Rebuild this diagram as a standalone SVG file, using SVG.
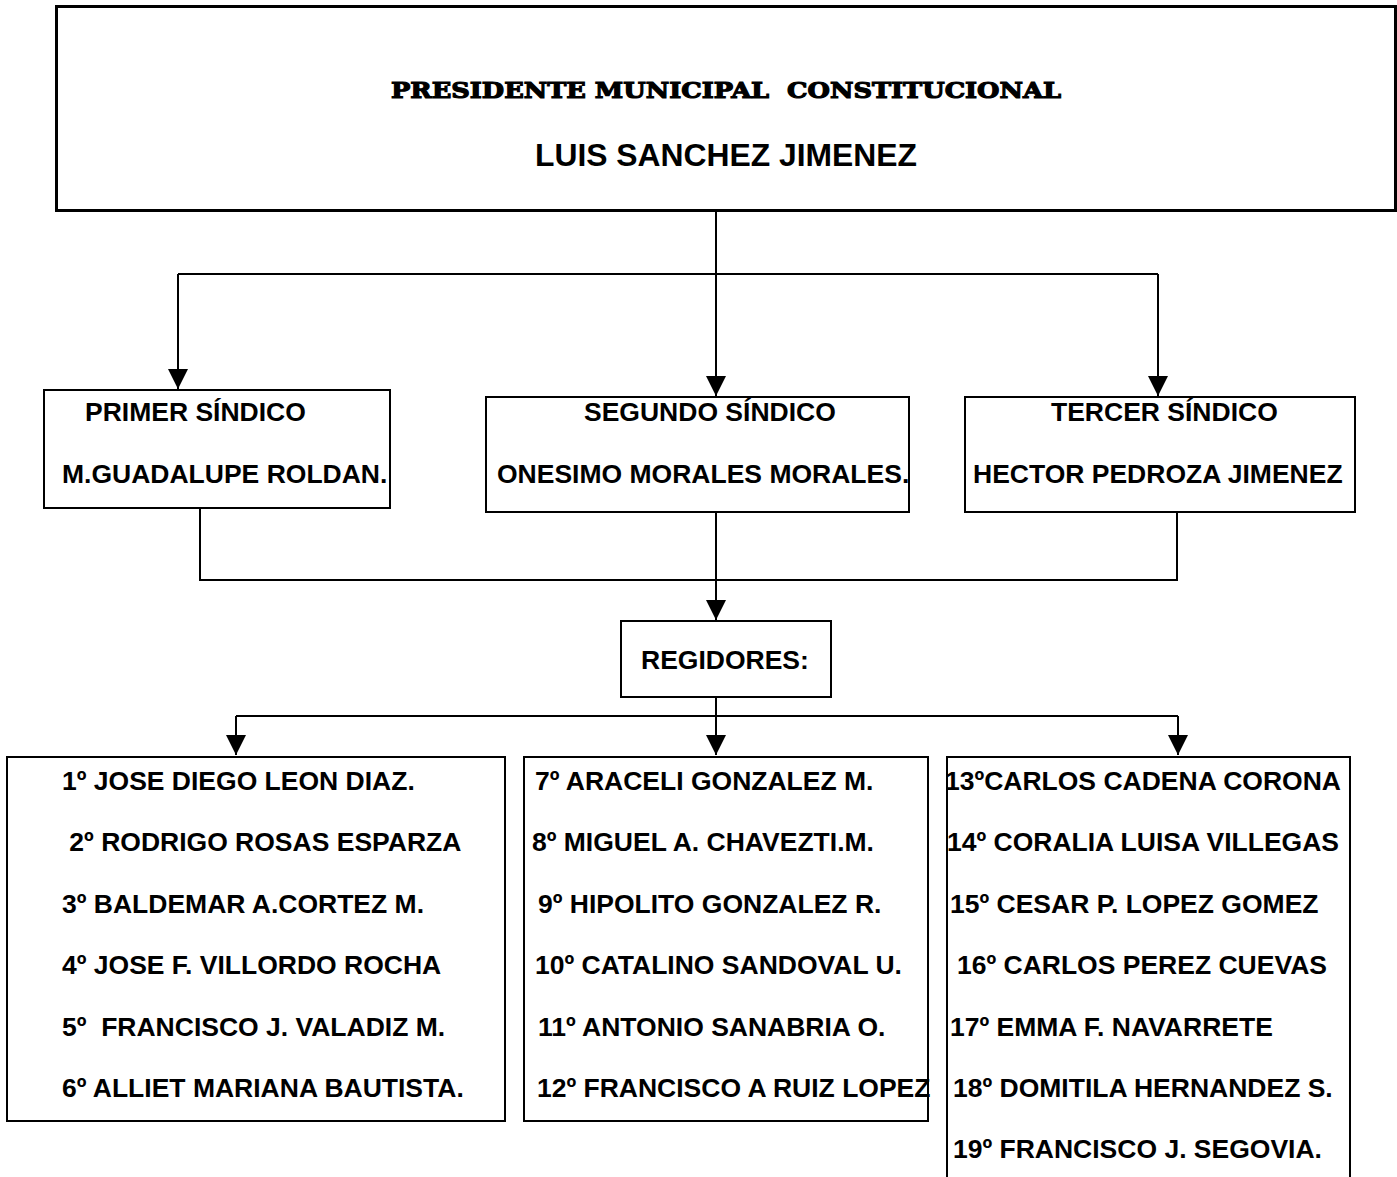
<svg xmlns="http://www.w3.org/2000/svg" width="1397" height="1177" viewBox="0 0 1397 1177">
<style>
.box{fill:#fff;stroke:#000;stroke-width:2}
.big{fill:#fff;stroke:#000;stroke-width:3}
.t{font-family:"Liberation Sans",Arial,sans-serif;font-weight:bold;font-size:26.5px;fill:#000;white-space:pre}
.title{font-family:"DejaVu Serif","Liberation Serif",serif;font-weight:900;font-size:23px;fill:#000;stroke:#000;stroke-width:1.2;white-space:pre}
.name{font-family:"Liberation Sans",Arial,sans-serif;font-weight:bold;font-size:32px;fill:#000}
.c{fill:none;stroke:#000;stroke-width:2}
</style>
<defs>
<marker id="ah" viewBox="0 0 20 20" refX="20" refY="10" markerWidth="20" markerHeight="20" markerUnits="userSpaceOnUse" orient="auto">
<path d="M0,0 L20,10 L0,20 z" fill="#000"/>
</marker>
</defs>
<rect width="1397" height="1177" fill="#fff"/>
<g id="connectors">
<path class="c" d="M716,210 V274 M178,274 H1158"/>
<path class="c" d="M178,274 V389" marker-end="url(#ah)"/>
<path class="c" d="M716,274 V396" marker-end="url(#ah)"/>
<path class="c" d="M1158,274 V396" marker-end="url(#ah)"/>
<path class="c" d="M200,508 V580 H1177 V512"/>
<path class="c" d="M716,512 V620" marker-end="url(#ah)"/>
<path class="c" d="M716,697 V716 M236,716 H1178"/>
<path class="c" d="M236,716 V755" marker-end="url(#ah)"/>
<path class="c" d="M716,716 V755" marker-end="url(#ah)"/>
<path class="c" d="M1178,716 V755" marker-end="url(#ah)"/>
</g>
<g id="presidente">
<rect class="big" x="56.5" y="6.5" width="1339" height="204"/>
<text class="title" x="391" y="98" textLength="670" lengthAdjust="spacingAndGlyphs">PRESIDENTE MUNICIPAL  CONSTITUCIONAL</text>
<text class="name" x="535" y="166" textLength="382" lengthAdjust="spacingAndGlyphs">LUIS SANCHEZ JIMENEZ</text>
</g>
<g id="primer-sindico">
<rect class="box" x="44" y="390" width="346" height="118"/>
<text class="t" x="85" y="421">PRIMER SÍNDICO</text>
<text class="t" x="62" y="483">M.GUADALUPE ROLDAN.</text>
</g>
<g id="segundo-sindico">
<rect class="box" x="486" y="397" width="423" height="115"/>
<text class="t" x="584" y="421">SEGUNDO SÍNDICO</text>
<text class="t" x="497" y="483">ONESIMO MORALES MORALES.</text>
</g>
<g id="tercer-sindico">
<rect class="box" x="965" y="397" width="390" height="115"/>
<text class="t" x="1051" y="421">TERCER SÍNDICO</text>
<text class="t" x="973" y="483">HECTOR PEDROZA JIMENEZ</text>
</g>
<g id="regidores">
<rect class="box" x="621" y="621" width="210" height="76"/>
<text class="t" x="641" y="669">REGIDORES:</text>
</g>
<g id="regidores-1-6">
<rect class="box" x="7" y="757" width="498" height="364"/>
<text class="t" x="62" y="790">1º JOSE DIEGO LEON DIAZ.</text>
<text class="t" x="62" y="851"> 2º RODRIGO ROSAS ESPARZA</text>
<text class="t" x="62" y="913">3º BALDEMAR A.CORTEZ M.</text>
<text class="t" x="62" y="974">4º JOSE F. VILLORDO ROCHA</text>
<text class="t" x="62" y="1036">5º  FRANCISCO J. VALADIZ M.</text>
<text class="t" x="62" y="1097">6º ALLIET MARIANA BAUTISTA.</text>
</g>
<g id="regidores-7-12">
<rect class="box" x="524" y="757" width="404" height="364"/>
<text class="t" x="535" y="790">7º ARACELI GONZALEZ M.</text>
<text class="t" x="532" y="851">8º MIGUEL A. CHAVEZTI.M.</text>
<text class="t" x="538" y="913">9º HIPOLITO GONZALEZ R.</text>
<text class="t" x="535" y="974">10º CATALINO SANDOVAL U.</text>
<text class="t" x="538" y="1036">11º ANTONIO SANABRIA O.</text>
<text class="t" x="537" y="1097">12º FRANCISCO A RUIZ LOPEZ</text>
</g>
<g id="regidores-13-19">
<path class="c" d="M947,1180 V757 H1350 V1180"/>
<text class="t" x="945" y="790">13ºCARLOS CADENA CORONA</text>
<text class="t" x="947" y="851">14º CORALIA LUISA VILLEGAS</text>
<text class="t" x="950" y="913">15º CESAR P. LOPEZ GOMEZ</text>
<text class="t" x="957" y="974">16º CARLOS PEREZ CUEVAS</text>
<text class="t" x="950" y="1036">17º EMMA F. NAVARRETE</text>
<text class="t" x="953" y="1097">18º DOMITILA HERNANDEZ S.</text>
<text class="t" x="953" y="1158">19º FRANCISCO J. SEGOVIA.</text>
</g>
</svg>
